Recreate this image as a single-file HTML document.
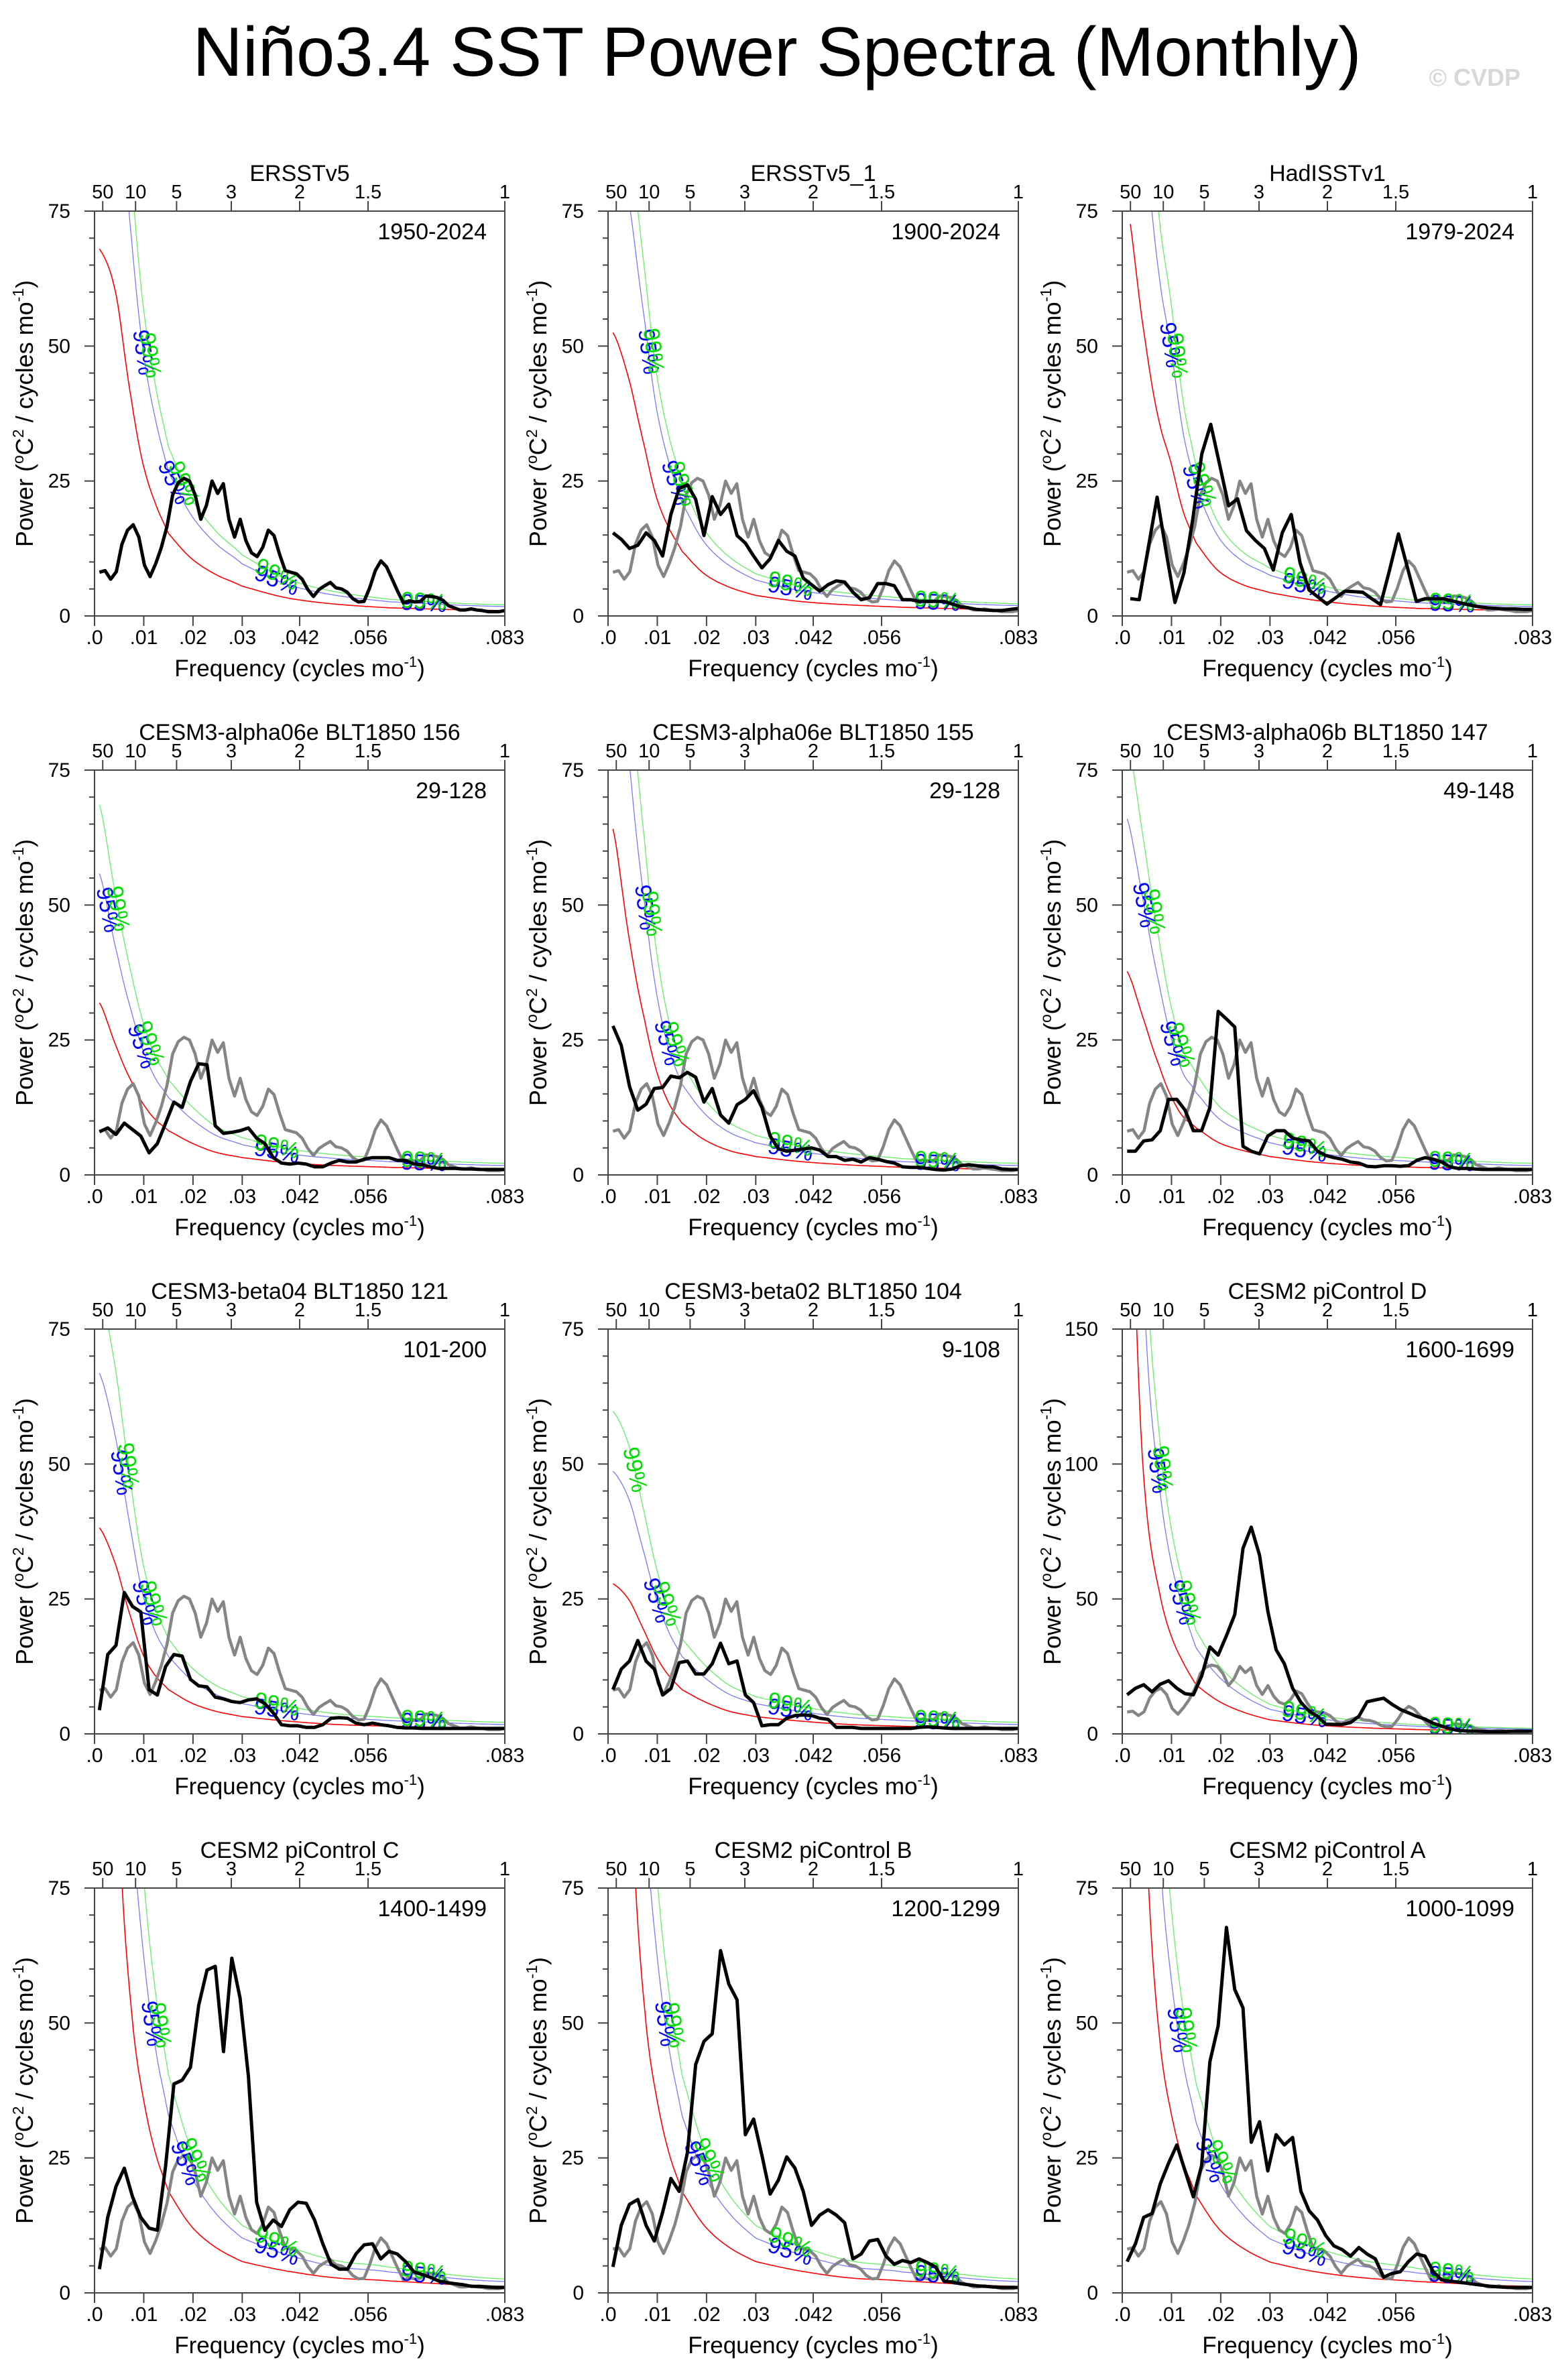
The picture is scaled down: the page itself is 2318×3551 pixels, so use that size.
<!DOCTYPE html>
<html><head><meta charset="utf-8"><title>Niño3.4 SST Power Spectra (Monthly)</title>
<style>
html,body{margin:0;padding:0;background:#fff;}
svg{display:block;font-family:"Liberation Sans",Arial,sans-serif;}
</style></head>
<body>
<svg id="fig" width="2318" height="3551" viewBox="0 0 2318 3551" xmlns="http://www.w3.org/2000/svg">
<rect x="0" y="0" width="2318" height="3551" fill="#fff"/>
<text x="1159" y="113" text-anchor="middle" font-size="104" textLength="1743" lengthAdjust="spacingAndGlyphs" fill="#000">Niño3.4 SST Power Spectra (Monthly)</text>
<text x="2268" y="128" text-anchor="end" font-size="36" font-weight="bold" fill="#d8d8d8">© CVDP</text>
</svg>
<script>
// ---------- chart data ----------
const panelTitles = ["ERSSTv5","ERSSTv5_1","HadISSTv1","CESM3-alpha06e BLT1850 156","CESM3-alpha06e BLT1850 155","CESM3-alpha06b BLT1850 147","CESM3-beta04 BLT1850 121","CESM3-beta02 BLT1850 104","CESM2 piControl D","CESM2 piControl C","CESM2 piControl B","CESM2 piControl A"];
const panelYears = ["1950-2024","1900-2024","1979-2024","29-128","29-128","49-148","101-200","9-108","1600-1699","1400-1499","1200-1299","1000-1099"];
const panelYMax = [75,75,75,75,75,75,75,75,150,75,75,75];
const firstFreq = [0.001,0.001,0.00163,0.001,0.001,0.001,0.001,0.001,0.001,0.001,0.001,0.001];
const showObsGray = [false,true,true,true,true,true,true,true,true,true,true,true];
const c95 = [1.75,1.75,1.75,1.75,1.75,1.75,1.75,1.75,1.75,1.75,1.75,1.75];
const c99 = [2.05,2.05,2.05,2.15,2.15,2.15,2.15,2.15,2.1,2.15,2.15,2.15];

const bottomTickVals = [0,0.01,0.02,0.03,0.04167,0.05556,0.08333];
const bottomTickLabels = [".0",".01",".02",".03",".042",".056",".083"];
const topTickPeriods = [50,10,5,3,2,1.5,1];
const topTickLabels = ["50","10","5","3","2","1.5","1"];

const obsSpectrum = [8.1,8.4,6.8,8.2,13.3,15.9,16.9,14.6,9.4,7.3,9.7,12.7,16.6,22.4,24.7,25.5,25,22.4,17.9,20.5,25,22.7,24.5,17.9,14.6,17.9,14,11.7,11,12.7,15.9,14.9,11.4,8.4,8.1,7.8,6.8,4.9,3.6,4.9,5.6,6.2,5.2,5,4.4,3.2,2.6,2.7,5.2,8.4,10.2,9.1,6.8,4.5,2.4,2.8,2.6,2.7,3.7,3.6,3.4,2.9,1.9,1.5,1.1,1.1,1.3,1.1,1,0.8,0.8,0.8,1];
const specERSSTv5_1 = [15.4,14.2,12.5,13.1,15.4,14,11.1,18.8,23.6,24.3,21.6,14.9,22.1,18.8,20.7,14.9,13.5,11.1,8.9,10.6,14,12,11.1,7,5.8,4.6,5.8,6.5,6.3,4.4,3,3.4,6,6,5.6,3,3,2.7,2.7,2.7,2.7,2.2,1.7,1.5,1.2,1.1,1,1,1.2,1.4];
const specHadISST = [3.2,3,12.5,22,12,2.5,8,18,30,35.5,28,20.4,21.7,15.8,14,12.5,8.5,15.4,18.8,9.8,4.8,3.5,2.2,3.4,4.6,4.5,4.4,3.2,2.1,8.5,15.2,9,2.7,3.2,3.2,3.2,2.8,2.4,2,1.7,1.5,1.4,1.3,1.3,1.2,1.2];
const specA06e156 = [8,8.7,7.5,9.6,8.4,7.2,4.1,5.8,9.6,13.5,12.5,17.3,20.6,20.4,9.1,7.7,7.9,8.2,8.7,6.8,5.8,3.2,2.2,2,2.2,2,1.5,1.5,2.2,2.7,2.4,2.4,2.9,3.2,3.2,3.2,2.7,2.7,2,1.9,1.5,1.2,1.2,1.2,1.1,1.1,1,1,1,1];
const specA06e155 = [27.6,24,16.4,12,13.1,16,16.2,18.3,18,19,18.1,13.5,16,11.1,9.6,13,14,15.6,12.5,7.2,4.8,4.4,4.6,4.8,5,4.6,3.4,3.4,2.7,2.9,2.4,3.2,2.9,2.5,2.2,1.5,1.4,1.4,1.2,1,0.9,1.1,1.7,1.9,1.7,1.5,1.5,1.1,1,1];
const specA06b147 = [4.4,4.4,6.3,6.5,8.2,14,14,12,8.2,8.2,12.5,30.3,28.9,27.4,5.3,4.4,3.9,7.2,8.2,8.2,6.8,6.5,6.3,4.4,3.6,3.2,2.9,2.4,2.2,1.6,1.5,1.7,1.7,1.6,1.7,2.7,3.2,2.9,2.4,1.5,1.2,1.2,1.1,1,1,1,1,1,1,1];
const specB04121 = [4.4,14.7,16.4,26.2,23.6,22.6,8.2,7.2,12.5,14.7,14.4,10.1,8.9,8.7,6.8,6.5,6,5.8,6.3,6.5,5.6,3.9,1.7,1.5,1.5,1.2,1.2,1.7,2.9,3,2.9,2,1.7,2,1.7,1.5,1.2,1.1,1.1,1,1,1,1,1,1,1,1,1,1,1];
const specB02104 = [8.2,12,13.5,17.3,13.5,12,7.2,8.4,13.2,13.5,11.1,11.1,13,16.8,13,13.5,7.2,5.8,1.5,1.7,1.7,2.9,3.4,3.5,3.4,2.9,2.7,1.2,1.2,1.2,1,1,1,1,1,1,1,1.2,1.3,1.2,1.1,1,1,1,1,1,1,1,1,1];
const specPiD = [14.5,16.9,18.2,15.6,18.4,19.7,16.9,14.9,14.5,21.4,32.2,29.2,36.4,44.2,68.8,76.6,66.2,45.5,31.2,26,16.9,11.7,8.4,6.5,3.6,3.5,3.5,4.2,6.5,11.9,12.6,13.2,11,9.1,7.8,6.5,5.5,3.9,2.9,1.9,1.3,1.1,1,0.9,0.8,0.8,0.9,1,1,1];
const specPiC = [4.4,14,19.7,23.1,17.8,14,12,11.6,23.6,38.7,39.4,41.8,53.3,59.8,60.5,44.7,62,54.6,40.2,16.8,11.6,13.5,12.3,15.4,16.8,16.6,13.5,9.1,5.3,4.4,4.4,7.2,8.9,9.1,6.3,7.7,7.2,5.8,3.9,3.4,2.9,2.2,1.9,1.7,1.5,1.2,1.2,1.1,1,1];
const specPiB = [4.8,12.5,16.4,17.3,12.5,9.6,14.9,21.2,18.8,26,42.3,46.6,48,63.4,57.2,54.3,29.3,32.2,25.5,18.3,20.9,25.2,23.1,18.8,12.5,14.4,15.4,14.4,13,6.3,7.2,9.6,9.9,6.8,5.3,6,5.6,6.3,5.6,4.8,2.2,2,1.7,1.5,1.3,1.2,1.1,1,1,1];
const specPiA = [5.8,9.1,14,14.7,20.2,24,27.4,22.6,17.8,23.6,42.8,49.5,67.7,56.2,52.8,27.9,31.7,22.6,29.3,27.4,28.8,18.8,15.2,13.5,10.6,8.7,8,6.8,8.4,7.2,6.3,2.9,3.6,3.9,5.8,7.2,6.8,3.9,2.4,2.2,2,1.8,1.6,1.4,1.2,1.1,1,1,1,1];
const panelSpectra = [obsSpectrum,specERSSTv5_1,specHadISST,specA06e156,specA06e155,specA06b147,specB04121,specB02104,specPiD,specPiC,specPiB,specPiA];

const redFreqs = [0.001,0.0045,0.0075,0.01,0.0125,0.015,0.02,0.025,0.03,0.04,0.05,0.06,0.0833];
const red1 = [68,59,40,27.6,20.5,15.3,10.4,7.5,5.5,3.2,2.1,1.5,1];
const red2 = [52.5,43,31,21.5,16,12,7.5,5.2,3.8,2.6,2,1.6,1.1];
const red3 = [76,52,36,28,19,13.5,8,5.6,4.3,2.8,1.9,1.4,1];
const red4 = [31.9,23.6,17.3,13,10.1,8.2,5.8,4.1,3.2,2.2,1.7,1.4,1];
const red5 = [64.1,42.7,28.4,18.8,13,9.6,6.3,4.4,3.4,2.4,1.8,1.4,1];
const red6 = [37.7,28.4,20.2,14.4,10.6,8.7,5.8,4.4,3.4,2.3,1.7,1.4,1];
const red7 = [38.2,30.8,21.2,14.4,10.6,8.2,5.6,4.1,3.2,2.3,1.7,1.4,1];
const red8 = [27.8,24.5,18.8,14,10.6,8.2,5.8,4.1,3.2,2.3,1.7,1.4,1];
const red9 = [260,92,53,36,26,18.2,11.7,7.8,5.2,3.2,2.2,1.6,1];
const red10 = [300,100,52.4,35.6,25.5,18.8,12,8.2,5.8,3.9,2.7,2.2,1.2];
const red11 = [300,100,52,35.5,25.5,18.8,12,8.2,5.8,3.9,2.7,2.2,1.2];
const red12 = [280,95,48,33,24,18,11.5,8,5.7,3.8,2.7,2.1,1.2];
const panelRed = [red1,red2,red3,red4,red5,red6,red7,red8,red9,red10,red11,red12];

// ---------- layout ----------
const NS = "http://www.w3.org/2000/svg";
const svg = document.getElementById("fig");
const colLeft = [141, 907, 1674];
const rowTop = [315, 1149, 1983, 2817];
const W = 612, H = 604, FMAX = 1/12;

function mk(tag, attrs, parent) {
  const e = document.createElementNS(NS, tag);
  for (const k in attrs) e.setAttribute(k, attrs[k]);
  (parent || svg).appendChild(e);
  return e;
}
function redAt(red, f) {
  const n = redFreqs.length;
  let i = 0;
  while (i < n - 2 && f > redFreqs[i + 1]) i++;
  const t = Math.max(0, Math.min(1, (f - redFreqs[i]) / (redFreqs[i + 1] - redFreqs[i])));
  const L = k => Math.log(red[Math.max(0, Math.min(n - 1, k))]);
  const p0 = L(i - 1), p1 = L(i), p2 = L(i + 1), p3 = L(i + 2);
  const t2 = t * t, t3 = t2 * t;
  const v = 0.5 * ((2 * p1) + (-p0 + p2) * t + (2 * p0 - 5 * p1 + 4 * p2 - p3) * t2 + (-p0 + 3 * p1 - 3 * p2 + p3) * t3);
  return Math.exp(v);
}

for (let p = 0; p < 12; p++) {
  const L0 = colLeft[p % 3], T0 = rowTop[Math.floor(p / 3)];
  const ymax = panelYMax[p];
  const X = f => L0 + f / FMAX * W;
  const Y = v => T0 + H - v / ymax * H;
  const g = mk("g", {});
  
  

  const clipId = "clip" + p;
  const cp = mk("clipPath", { id: clipId }, g);
  mk("rect", { x: L0, y: T0, width: W, height: H }, cp);

  const tt = mk("text", { x: L0 + W / 2, y: T0 - 45, "text-anchor": "middle", "font-size": 34 }, g);
  tt.textContent = panelTitles[p];
  
  
  const yr = mk("text", { x: L0 + W - 27, y: T0 + 42, "text-anchor": "end", "font-size": 34 }, g);
  yr.textContent = panelYears[p];
  
  

  const major = ymax / 3, minor = major / 5;
  for (let v = 0; v <= ymax + 1e-6; v += minor) {
    const isMaj = Math.abs(v / major - Math.round(v / major)) < 1e-6;
    const tk = mk("line", { x1: L0 - (isMaj ? 15 : 8), x2: L0, y1: Y(v), y2: Y(v), stroke: "#444", "stroke-width": 2 }, g);
    
    
    if (isMaj) {
      const lb = mk("text", { x: L0 - 36, y: Y(v) + 10, "text-anchor": "end", "font-size": 30 }, g);
      lb.textContent = String(Math.round(v));
      
      
    }
  }
  for (let i = 0; i < bottomTickVals.length; i++) {
    const x = X(bottomTickVals[i]);
    const tk = mk("line", { x1: x, x2: x, y1: T0 + H, y2: T0 + H + 15, stroke: "#444", "stroke-width": 2 }, g);
    
    
    const lb = mk("text", { x: x, y: T0 + H + 42, "text-anchor": "middle", "font-size": 30 }, g);
    lb.textContent = bottomTickLabels[i];
    
    
  }
  for (let i = 0; i < topTickPeriods.length; i++) {
    const x = X(1 / (12 * topTickPeriods[i]));
    const tk = mk("line", { x1: x, x2: x, y1: T0 - 15, y2: T0, stroke: "#444", "stroke-width": 2 }, g);
    
    
    const lb = mk("text", { x: x, y: T0 - 19, "text-anchor": "middle", "font-size": 29 }, g);
    lb.textContent = topTickLabels[i];
    
    
  }
  const xt = mk("text", { x: L0 + W / 2, y: T0 + H + 90, "text-anchor": "middle", "font-size": 35 }, g);
  xt.innerHTML = 'Frequency (cycles mo<tspan dy="-14" font-size="22">-1</tspan><tspan dy="14">)</tspan>';
  
  
  const yt = mk("text", { x: 0, y: 0, "text-anchor": "middle", "font-size": 36, transform: `translate(${L0 - 92},${T0 + H / 2}) rotate(-90)` }, g);
  yt.innerHTML = 'Power (<tspan dy="-14" font-size="23">o</tspan><tspan dy="14">C</tspan><tspan dy="-14" font-size="23">2</tspan><tspan dy="14"> / cycles mo</tspan><tspan dy="-14" font-size="23">-1</tspan><tspan dy="14">)</tspan>';
  
  

  const plot = mk("g", { "clip-path": `url(#${clipId})` }, g);
  
  

  const red = panelRed[p];
  const fs = [], rv = [];
  for (let k = 0; k <= 240; k++) {
    const f = firstFreq[p] + (FMAX - firstFreq[p]) * k / 240;
    fs.push(f); rv.push(redAt(red, f));
  }
  const curveDefs = [
    { mult: 1, color: "#ff0000", name: "red-noise-curve", w: 1.6 },
    { mult: c95[p], color: "#7878ff", name: "sig-95-curve", w: 1.3 },
    { mult: c99[p], color: "#66ee66", name: "sig-99-curve", w: 1.3 }
  ];
  const curves = [];
  for (const cd of curveDefs) {
    const pts = fs.map((f, k) => [X(f), Y(Math.min(rv[k] * cd.mult, ymax * 3))]);
    curves.push(pts);
    const pl = mk("polyline", { points: pts.map(q => q[0].toFixed(1) + "," + q[1].toFixed(1)).join(" "), fill: "none", stroke: cd.color, "stroke-width": cd.w }, plot);
    
    
  }
  function drawSpec(vals, f0, color, w, name) {
    const n = vals.length;
    const pts = vals.map((v, i) => {
      const f = f0 + (FMAX - f0) * i / (n - 1);
      return X(f).toFixed(1) + "," + Y(v).toFixed(1);
    }).join(" ");
    const pl = mk("polyline", { points: pts, fill: "none", stroke: color, "stroke-width": w, "stroke-linejoin": "round" }, plot);
    
    
  }
  if (showObsGray[p]) drawSpec(obsSpectrum, firstFreq[0], "#858585", 4.5, "obs-spectrum-line");

  const labelDefs = [{ idx: 1, txt: "95%", col: "#0000ff" }, { idx: 2, txt: "99%", col: "#00dd00" }];
  for (const ld of labelDefs) {
    const pts = curves[ld.idx];
    const mult = ld.idx === 1 ? c95[p] : c99[p];
    const spots = [];
    for (const lev of [0.67 * ymax, 0.33 * ymax]) {
      let k = rv.findIndex(v => v * mult <= lev);
      if (k > 0) spots.push(k);
    }
    for (const ff of [0.037, 0.067]) {
      spots.push(Math.round((ff - firstFreq[p]) / (FMAX - firstFreq[p]) * 240));
    }
    for (const k of spots) {
      const a = pts[Math.max(0, k - 2)], b = pts[Math.min(240, k + 2)];
      const ang = Math.atan2(b[1] - a[1], b[0] - a[0]) * 180 / Math.PI;
      const q = pts[k];
      const t = mk("text", { x: 0, y: 0, "text-anchor": "middle", "dominant-baseline": "central", "font-size": 34, fill: ld.col, transform: `translate(${q[0].toFixed(1)},${q[1].toFixed(1)}) rotate(${ang.toFixed(1)})` }, plot);
      t.textContent = ld.txt;
      
      
    }
  }
  drawSpec(panelSpectra[p], firstFreq[p], "#000", 5, "spectrum-line");

  const fr = mk("rect", { x: L0, y: T0, width: W, height: H, fill: "none", stroke: "#444", "stroke-width": 2 }, g);
  
  
}
</script>
</body></html>
